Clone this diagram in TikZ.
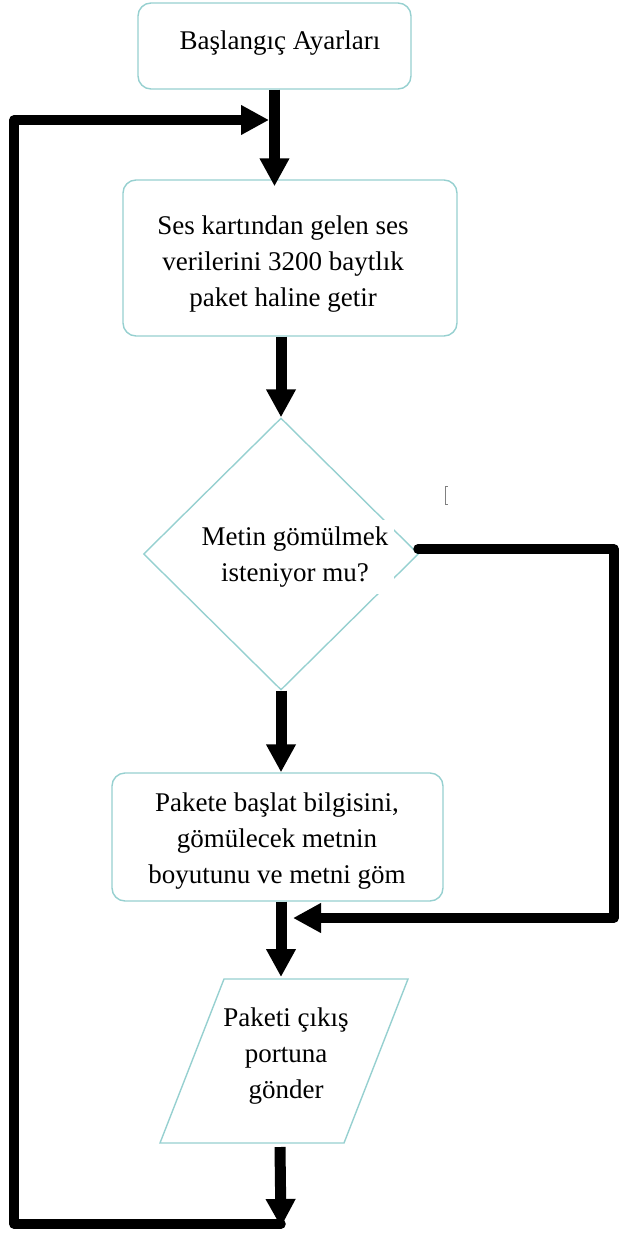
\documentclass[tikz,border=0pt]{standalone}
\usepackage{fontspec}
\setmainfont{Liberation Serif}
\usetikzlibrary{arrows.meta,shapes.geometric}
\definecolor{frame}{RGB}{150,208,208}
\begin{document}
\begin{tikzpicture}[x=1pt,y=-1pt,
  txt/.style={font=\fontsize{27}{36}\selectfont, align=center, inner sep=0pt},
  box/.style={draw=frame, line width=1.4pt, rounded corners=13pt, inner sep=0pt},
  flow/.style={line width=11pt, -{Triangle[length=28pt,width=28pt]}},
  loopline/.style={line width=9.5pt, line join=round, line cap=round,
                   -{Triangle[length=28pt,width=28pt]}}]
\useasboundingbox (0,0) rectangle (618,1233);

% process boxes
\node[box, minimum width=273pt, minimum height=86pt]  (b1) at (274.5,46) {};
\node[box, minimum width=334pt, minimum height=156pt] (b2) at (290,258) {};
\node[box, minimum width=331pt, minimum height=128pt] (b3) at (277.5,837) {};
% decision
\node[diamond, draw=frame, line width=1.4pt, inner sep=0pt,
      minimum width=275pt, minimum height=272pt] (d) at (281,554) {};
% output (parallelogram)
\draw[draw=frame, line width=1.4pt] (224,979) -- (408,979) -- (344,1143) -- (160,1143) -- cycle;
\coordinate (ptop) at (281,979);
\coordinate (pbot) at (280,1147);

% texts
\node[txt, anchor=base] (t1) at (280,50) {Başlangıç Ayarları};
\node[txt] (t2) at (283,264.5) {Ses kartından gelen ses\\verilerini 3200 baytlık\\paket haline getir};
\node[txt, fill=white, inner xsep=6pt, inner ysep=7pt] (t3) at (295,557) {Metin gömülmek\\isteniyor mu?};
\node[txt] (t4) at (277,841.5) {Pakete başlat bilgisini,\\gömülecek metnin\\boyutunu ve metni göm};
\node[txt] (t5) at (286,1056) {Paketi çıkış\\portuna\\gönder};

% loop and branch points
\coordinate (merge) at (269,120);
\coordinate (ret)   at (281,1224);
\coordinate (bl)    at (14,1224);
\coordinate (tl)    at (14,120);
\coordinate (yes)   at (418,549);
\coordinate (tr)    at (614,549);
\coordinate (br)    at (614,918);
\coordinate (side)  at (293,918);

% main flow
\draw[flow] (b1.south) -- ([yshift=-7pt]b1.south |- b2.north);
\draw[flow] (d.north |- b2.south) -- (d.north);
\draw[flow] (d.south) -- (d.south |- b3.north);
\draw[flow] (ptop |- b3.south) -- ([yshift=2pt]ptop);
\draw[flow] (pbot) -- ([yshift=-3pt]ret);

% return loop and bypass
\draw[loopline] (ret) -- (bl) -- (tl) -- (merge);
\draw[loopline] (yes) -- (tr) -- (br) -- (side);

% small bracket mark
\draw[gray, line width=0.8pt] (447.5,486) -- (445.5,486) -- (445.5,504.5) -- (447.5,504.5);
\end{tikzpicture}
\end{document}
